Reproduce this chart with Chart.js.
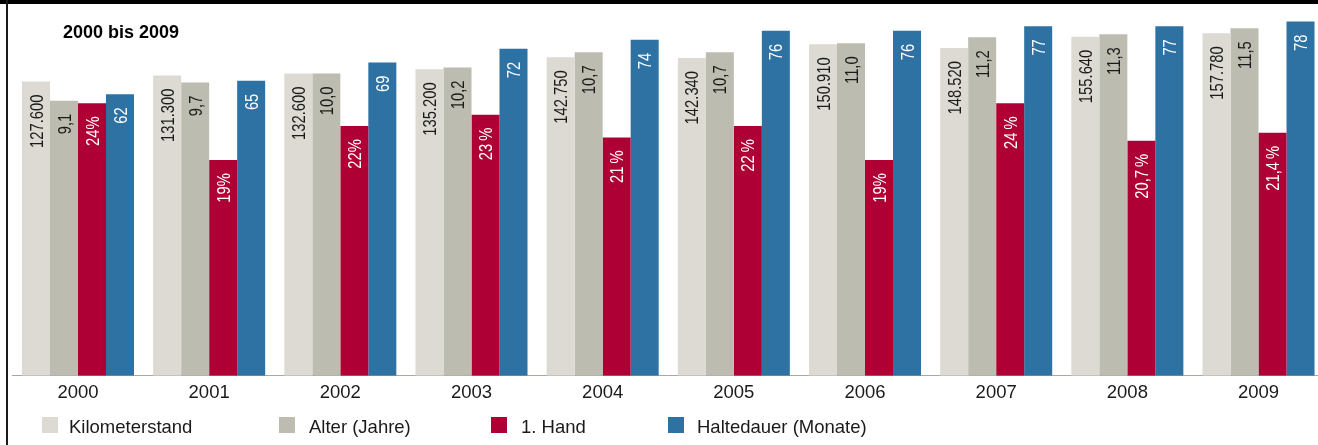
<!DOCTYPE html>
<html>
<head>
<meta charset="utf-8">
<script src="https://cdn.jsdelivr.net/npm/chart.js@4.4.1/dist/chart.umd.min.js"></script>
<style>
  html, body { margin: 0; padding: 0; background: #fff; overflow: hidden; width: 1318px; height: 445px; }
  #wrap { position: relative; width: 1318px; height: 445px; overflow: hidden; }
  #chart { position: absolute; left: 0; top: 0; }
  #topbar { position: absolute; left: 0; top: 0; width: 1318px; height: 4px; background: #000; }
  #leftbar { position: absolute; left: 6px; top: 0; width: 2px; height: 445px; background: #1a1a1a; }
  #title { position: absolute; left: 63px; top: 22.5px; font: bold 18px 'Liberation Sans', Arial, sans-serif; line-height: 18px; color: #000; white-space: nowrap; }
  .lg-box { position: absolute; top: 417px; width: 16px; height: 16px; }
  .lg-text { position: absolute; top: 417.6px; font: 18.5px 'Liberation Sans', Arial, sans-serif; line-height: 18.5px; color: #1a1a1a; white-space: nowrap; }
</style>
</head>
<body>
<div id="wrap">
  <canvas id="chart" width="1330" height="445"></canvas>
  <div id="topbar"></div>
  <div id="leftbar"></div>
  <div id="title">2000 bis 2009</div>
  <div id="legend"></div>
</div>
<script>
// ---- data ----
const categories = ['2000', '2001', '2002', '2003', '2004', '2005', '2006', '2007', '2008', '2009'];
const seriesNames = ['Kilometerstand', 'Alter (Jahre)', '1. Hand', 'Haltedauer (Monate)'];
const kilometerstand = [127600, 131300, 132600, 135200, 142750, 142340, 150910, 148520, 155640, 157780];
const alterJahre = [9.1, 9.7, 10.0, 10.2, 10.7, 10.7, 11.0, 11.2, 11.3, 11.5];
const ersteHand = [24, 19, 22, 23, 21, 22, 19, 24, 20.7, 21.4];
const haltedauer = [62, 65, 69, 72, 74, 76, 76, 77, 77, 78];
const ersteHandLabels = ['24%', '19%', '22%', '23\u2009%', '21\u2009%', '22\u2009%', '19%', '24\u2009%', '20,7\u2009%', '21,4\u2009%'];

// ---- styling ----
const colors = ['#dcdad2', '#bcbcb0', '#ae0034', '#2d72a2'];
const labelColors = ['#1a1a1a', '#1a1a1a', '#ffffff', '#ffffff'];
const legendBoxX = [42, 279, 491, 668];
const legendTextX = [69, 309, 521, 697];

const fmtKm = v => v.toLocaleString('de-DE');
const fmtDec = v => v.toFixed(1).replace('.', ',');

const valueLabels = [
  kilometerstand.map(fmtKm),
  alterJahre.map(fmtDec),
  ersteHandLabels,
  haltedauer.map(String)
];
const seriesData = [kilometerstand, alterJahre, ersteHand, haltedauer];
const axisIds = ['yKm', 'yAlter', 'yHand', 'yHalt'];

const datasets = seriesNames.map((name, i) => ({
  label: name,
  data: seriesData[i],
  yAxisID: axisIds[i],
  backgroundColor: colors[i],
  borderWidth: 0,
  barPercentage: 1.0,
  categoryPercentage: 0.854,
  valueLabels: valueLabels[i],
  labelColor: labelColors[i],
  base: i === 0 ? -56700 : undefined
}));

const barLabelPlugin = {
  id: 'barLabels',
  afterDatasetsDraw(chart) {
    const ctx = chart.ctx;
    chart.data.datasets.forEach((ds, i) => {
      const meta = chart.getDatasetMeta(i);
      meta.data.forEach((bar, j) => {
        ctx.save();
        ctx.translate(bar.x, bar.y + 13);
        ctx.rotate(-Math.PI / 2);
        ctx.scale(0.8, 1);  // condensed lettering along the text direction
        ctx.font = "18.5px 'Liberation Sans', Arial, sans-serif";
        ctx.fillStyle = ds.labelColor;
        ctx.textAlign = 'right';
        ctx.textBaseline = 'alphabetic';
        ctx.fillText(ds.valueLabels[j], 0, 6.6);
        ctx.restore();
      });
    });
  }
};

const chart = new Chart(document.getElementById('chart'), {
  type: 'bar',
  data: { labels: categories, datasets },
  options: {
    responsive: false,
    animation: false,
    devicePixelRatio: 1,
    layout: { padding: { left: 12.4, right: 5.9, top: 4, bottom: 34 } },
    plugins: { legend: { display: false }, tooltip: { enabled: false }, title: { display: false } },
    scales: {
      x: {
        grid: { display: false, drawTicks: false },
        border: { display: true, color: '#a9a79f', width: 1 },
        ticks: { color: '#1a1a1a', font: { family: "'Liberation Sans', Arial, sans-serif", size: 18.5 }, padding: 6.5, maxRotation: 0, autoSkip: false }
      },
      yKm: { display: false, min: -56700, max: 176100 },
      yAlter: { display: false, min: 0, max: 12.3 },
      yHand: { display: false, min: 0, max: 32.75 },
      yHalt: { display: false, min: 0, max: 81.88 }
    }
  },
  plugins: [barLabelPlugin]
});

// ---- legend ----
const legend = document.getElementById('legend');
chart.data.datasets.forEach((ds, i) => {
  const box = document.createElement('div');
  box.className = 'lg-box';
  box.style.left = legendBoxX[i] + 'px';
  box.style.background = ds.backgroundColor;
  legend.appendChild(box);
  const txt = document.createElement('div');
  txt.className = 'lg-text';
  txt.style.left = legendTextX[i] + 'px';
  txt.textContent = ds.label;
  legend.appendChild(txt);
});
</script>
</body>
</html>
